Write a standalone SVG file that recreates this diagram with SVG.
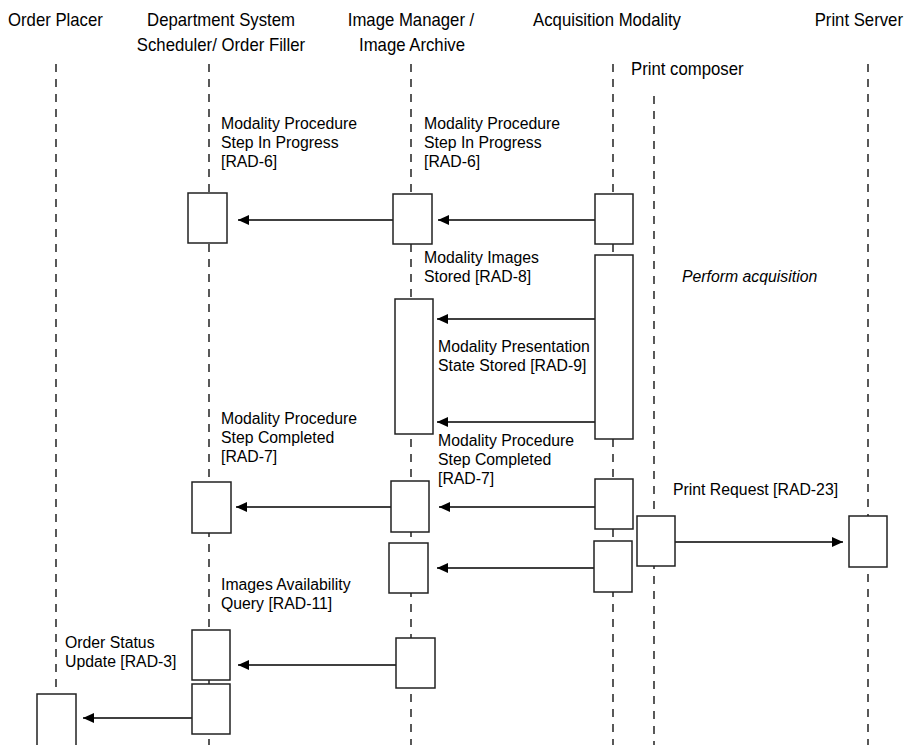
<svg xmlns="http://www.w3.org/2000/svg" width="904" height="745" viewBox="0 0 904 745">
  <defs>
    <marker id="arrow" viewBox="0 0 11 10" refX="11" refY="5" markerWidth="11" markerHeight="10" markerUnits="userSpaceOnUse" orient="auto">
      <path d="M0,0 L11,5 L0,10 Z" fill="#000"/>
    </marker>
    <style>
      text { font-family: "Liberation Sans", Arial, sans-serif; fill: #000; }
      .hdr { font-size: 18px; }
      .lbl { font-size: 15.8px; }
      .it { font-style: italic; }
      .life { stroke: #000; stroke-width: 1.3; stroke-dasharray: 8 7; fill: none; }
      .act { fill: #fff; stroke: #222; stroke-width: 1.5; }
      .msg { stroke: #000; stroke-width: 1.3; fill: none; marker-end: url(#arrow); }
    </style>
  </defs>
  <rect width="904" height="745" fill="#fff"/>

  <!-- participant headers (slightly narrowed lettering) -->
  <g id="hdr-order-placer">
    <text class="hdr" transform="translate(8,26) scale(0.93,1)">Order Placer</text>
  </g>
  <g id="hdr-dss">
    <text class="hdr" transform="translate(221,26) scale(0.93,1)" text-anchor="middle">Department System</text>
    <text class="hdr" transform="translate(221,51) scale(0.93,1)" text-anchor="middle">Scheduler/ Order Filler</text>
  </g>
  <g id="hdr-image-manager">
    <text class="hdr" transform="translate(411,26) scale(0.93,1)" text-anchor="middle">Image Manager /</text>
    <text class="hdr" transform="translate(412,51) scale(0.93,1)" text-anchor="middle">Image Archive</text>
  </g>
  <g id="hdr-modality">
    <text class="hdr" transform="translate(607,26) scale(0.93,1)" text-anchor="middle">Acquisition Modality</text>
  </g>
  <g id="hdr-print-composer">
    <text class="hdr" transform="translate(631,75) scale(0.93,1)">Print composer</text>
  </g>
  <g id="hdr-print-server">
    <text class="hdr" transform="translate(903,26) scale(0.93,1)" text-anchor="end">Print Server</text>
  </g>

  <!-- lifelines -->
  <g id="lifelines">
    <line class="life" x1="56" y1="64" x2="56" y2="745"/>
    <line class="life" x1="209" y1="64" x2="209" y2="745"/>
    <line class="life" x1="411" y1="64" x2="411" y2="745"/>
    <line class="life" x1="613" y1="64" x2="613" y2="745"/>
    <line class="life" x1="654" y1="96" x2="654" y2="745"/>
    <line class="life" x1="868" y1="64" x2="868" y2="745"/>
  </g>

  <!-- message connectors -->
  <g id="connectors">
    <line class="msg" x1="393" y1="220" x2="238" y2="220"/>
    <line class="msg" x1="595" y1="220" x2="438" y2="220"/>
    <line class="msg" x1="595" y1="319" x2="437" y2="319"/>
    <line class="msg" x1="595" y1="422" x2="437" y2="422"/>
    <line class="msg" x1="391" y1="507" x2="236" y2="507"/>
    <line class="msg" x1="595" y1="507" x2="439" y2="507"/>
    <line class="msg" x1="675" y1="542" x2="843" y2="542"/>
    <line class="msg" x1="594" y1="568" x2="437" y2="568"/>
    <line class="msg" x1="396" y1="665" x2="238" y2="665"/>
    <line class="msg" x1="192" y1="718" x2="83" y2="718"/>
  </g>

  <!-- activation boxes -->
  <g id="act-dss-1"><rect class="act" x="188" y="193" width="39" height="50"/></g>
  <g id="act-im-1"><rect class="act" x="393" y="194" width="39" height="50"/></g>
  <g id="act-mod-1"><rect class="act" x="595" y="194" width="38" height="50"/></g>
  <g id="act-mod-2"><rect class="act" x="595" y="255" width="38" height="184"/></g>
  <g id="act-im-2"><rect class="act" x="395" y="299" width="38" height="135"/></g>
  <g id="act-dss-2"><rect class="act" x="192" y="482" width="39" height="51"/></g>
  <g id="act-im-3"><rect class="act" x="391" y="481" width="38" height="51"/></g>
  <g id="act-mod-3"><rect class="act" x="595" y="479" width="38" height="50"/></g>
  <g id="act-composer"><rect class="act" x="637" y="516" width="38" height="50"/></g>
  <g id="act-print-server"><rect class="act" x="849" y="516" width="38" height="51"/></g>
  <g id="act-im-4"><rect class="act" x="389" y="543" width="39" height="50"/></g>
  <g id="act-mod-4"><rect class="act" x="594" y="541" width="38" height="51"/></g>
  <g id="act-dss-3"><rect class="act" x="192" y="630" width="38" height="50"/></g>
  <g id="act-im-5"><rect class="act" x="396" y="638" width="39" height="50"/></g>
  <g id="act-dss-4"><rect class="act" x="192" y="684" width="38" height="50"/></g>
  <g id="act-order-placer"><rect class="act" x="37" y="694" width="39" height="52"/></g>

  <!-- message labels -->
  <g id="lbl-rad6-dss">
    <text class="lbl" x="221" y="129">Modality Procedure</text>
    <text class="lbl" x="221" y="148">Step In Progress</text>
    <text class="lbl" x="221" y="167">[RAD-6]</text>
  </g>
  <g id="lbl-rad6-im">
    <text class="lbl" x="424" y="129">Modality Procedure</text>
    <text class="lbl" x="424" y="148">Step In Progress</text>
    <text class="lbl" x="424" y="167">[RAD-6]</text>
  </g>
  <g id="lbl-rad8">
    <text class="lbl" x="424" y="263">Modality Images</text>
    <text class="lbl" x="424" y="282">Stored [RAD-8]</text>
  </g>
  <g id="lbl-acquisition">
    <text class="lbl it" x="682" y="282">Perform acquisition</text>
  </g>
  <g id="lbl-rad9">
    <text class="lbl" x="438" y="352">Modality Presentation</text>
    <text class="lbl" x="438" y="371">State Stored [RAD-9]</text>
  </g>
  <g id="lbl-rad7-dss">
    <text class="lbl" x="221" y="424">Modality Procedure</text>
    <text class="lbl" x="221" y="443">Step Completed</text>
    <text class="lbl" x="221" y="462">[RAD-7]</text>
  </g>
  <g id="lbl-rad7-im">
    <text class="lbl" x="438" y="446">Modality Procedure</text>
    <text class="lbl" x="438" y="465">Step Completed</text>
    <text class="lbl" x="438" y="484">[RAD-7]</text>
  </g>
  <g id="lbl-rad23">
    <text class="lbl" x="673" y="495">Print Request [RAD-23]</text>
  </g>
  <g id="lbl-rad11">
    <text class="lbl" x="221" y="590">Images Availability</text>
    <text class="lbl" x="221" y="609">Query [RAD-11]</text>
  </g>
  <g id="lbl-rad3">
    <text class="lbl" x="65" y="648">Order Status</text>
    <text class="lbl" x="65" y="667">Update [RAD-3]</text>
  </g>
</svg>
